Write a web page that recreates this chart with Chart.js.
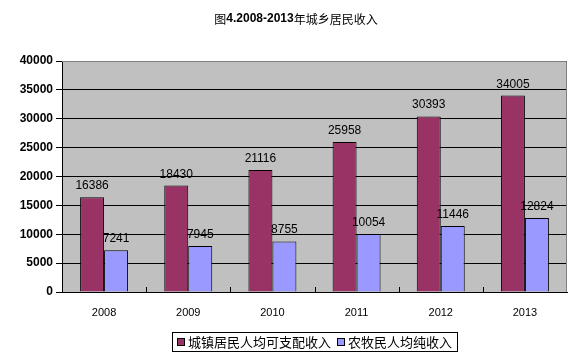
<!DOCTYPE html>
<html>
<head>
<meta charset="utf-8">
<script src="https://cdn.jsdelivr.net/npm/chart.js@4/dist/chart.umd.min.js"></script>
<style>
  html, body { margin: 0; padding: 0; background: #fff; }
  #wrap { width: 583px; height: 361px; }
</style>
</head>
<body>
<div id="wrap"><canvas id="myChart" width="583" height="361"></canvas></div>
<script>
// data
const years = ['2008', '2009', '2010', '2011', '2012', '2013'];
const urbanIncome = [16386, 18430, 21116, 25958, 30393, 34005];
const ruralIncome = [7241, 7945, 8755, 10054, 11446, 12824];
const seriesNames = ['城镇居民人均可支配收入', '农牧民人均纯收入'];
const yTicks = [0, 5000, 10000, 15000, 20000, 25000, 30000, 35000, 40000];

const latin = '"Liberation Sans", Arial, sans-serif';
const cjk = '"Noto Sans CJK SC", "Liberation Sans", sans-serif';

// gray plot background + border
const plotBg = {
    id: 'plotBg',
    beforeDraw(chart) {
        const a = chart.chartArea, ctx = chart.ctx;
        ctx.save();
        ctx.fillStyle = '#C0C0C0';
        ctx.fillRect(a.left, a.top, a.right - a.left, a.bottom - a.top);
        ctx.restore();
    },
    afterDatasetsDraw(chart) {
        const a = chart.chartArea, ctx = chart.ctx;
        ctx.save();
        ctx.strokeStyle = '#808080';
        ctx.lineWidth = 1;
        ctx.beginPath();
        ctx.moveTo(a.left, a.top + 0.5);
        ctx.lineTo(a.right - 0.5, a.top + 0.5);
        ctx.lineTo(a.right - 0.5, a.bottom);
        ctx.stroke();
        // small inward ticks between categories
        const xs = chart.scales.x;
        ctx.strokeStyle = '#000';
        ctx.beginPath();
        for (let i = 1; i < years.length; i++) {
            let x = Math.round((xs.getPixelForTick(i - 1) + xs.getPixelForTick(i)) / 2) + 0.5;
            ctx.moveTo(x, a.bottom);
            ctx.lineTo(x, a.bottom - 5);
        }
        ctx.stroke();
        ctx.restore();
    }
};

// value labels above bars, title, legend with box
const extras = {
    id: 'extras',
    afterDraw(chart) {
        const ctx = chart.ctx;
        ctx.save();
        ctx.fillStyle = '#000';
        ctx.textAlign = 'center';
        ctx.textBaseline = 'alphabetic';
        ctx.font = '12px ' + latin;
        chart.data.datasets.forEach((ds, di) => {
            chart.getDatasetMeta(di).data.forEach((bar, i) => {
                ctx.fillText(String(ds.data[i]), bar.x, bar.y - 8);
            });
        });

        // title, mixed weight
        const parts = [
            ['图', '12px ' + cjk],
            ['4.2008-2013', 'bold 12px ' + latin],
            ['年城乡居民收入', '12px ' + cjk]
        ];
        let total = 0;
        parts.forEach(p => { ctx.font = p[1]; total += ctx.measureText(p[0]).width; });
        let x = 296 - total / 2;
        ctx.textAlign = 'left';
        ctx.textBaseline = 'middle';
        parts.forEach(p => {
            ctx.font = p[1];
            ctx.fillText(p[0], x, 19);
            x += ctx.measureText(p[0]).width;
        });

        // legend
        ctx.strokeStyle = '#000';
        ctx.lineWidth = 1;
        ctx.strokeRect(172.5, 332.5, 285, 19);
        const itemX = [177, 337];
        ctx.font = '13px ' + cjk;
        chart.data.datasets.forEach((ds, di) => {
            ctx.fillStyle = ds.backgroundColor;
            ctx.fillRect(itemX[di], 338, 7, 7);
            ctx.strokeRect(itemX[di] + 0.5, 338.5, 7, 7);
            ctx.fillStyle = '#000';
            ctx.fillText(ds.label, itemX[di] + 11, 342);
        });
        ctx.restore();
    }
};

new Chart(document.getElementById('myChart'), {
    type: 'bar',
    data: {
        labels: years,
        datasets: [{
            label: seriesNames[0],
            data: urbanIncome,
            backgroundColor: '#993366',
            borderColor: '#000',
            borderWidth: 1,
            categoryPercentage: 0.57,
            barPercentage: 1
        }, {
            label: seriesNames[1],
            data: ruralIncome,
            backgroundColor: '#9999FF',
            borderColor: '#000',
            borderWidth: 1,
            categoryPercentage: 0.57,
            barPercentage: 1
        }]
    },
    options: {
        responsive: false,
        animation: false,
        layout: { padding: { top: 61, right: 16, bottom: 0, left: 0 } },
        plugins: {
            legend: { display: false },
            title: { display: false },
            tooltip: { enabled: false }
        },
        scales: {
            x: {
                grid: { display: false },
                border: { color: '#000', width: 1 },
                ticks: { color: '#000', font: { family: latin, size: 11 }, padding: 6 },
                afterFit: s => { s.height = 69; }
            },
            y: {
                min: 0,
                max: 40000,
                afterBuildTicks: s => { s.ticks = yTicks.map(v => ({ value: v })); },
                grid: { color: '#000', tickLength: 6, tickColor: '#000' },
                border: { color: '#000', width: 1 },
                ticks: {
                    color: '#000',
                    font: { family: latin, size: 12, weight: 'bold' },
                    padding: 3,
                    callback: v => String(v)
                },
                afterFit: s => { s.width = 62; }
            }
        }
    },
    plugins: [plotBg, extras]
});
</script>
</body>
</html>
